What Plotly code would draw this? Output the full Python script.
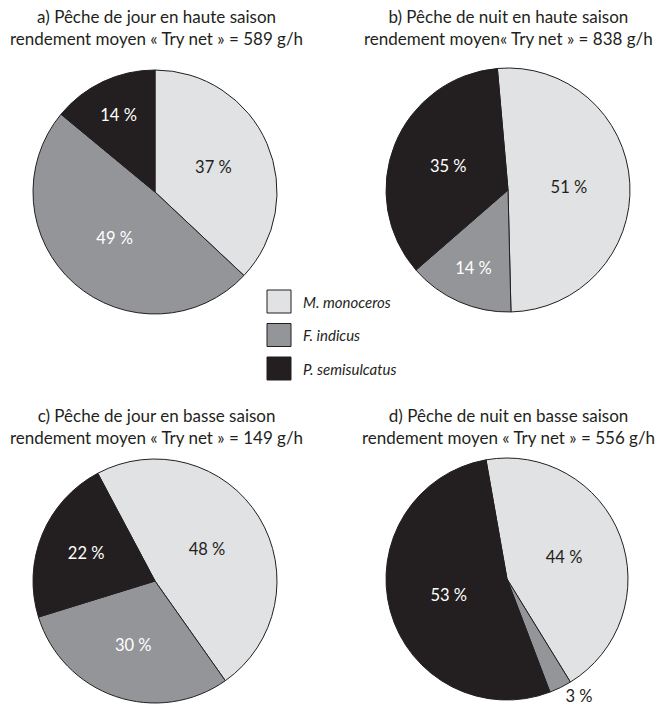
import plotly.graph_objects as go

# Species shares (%) of the "Try net" catch, per fishing situation
species = ["M. monoceros", "F. indicus", "P. semisulcatus"]
colors = ["#e1e2e4", "#939598", "#231f20"]
text_colors = ["#231f20", "#ffffff", "#ffffff"]

day_high = [37, 49, 14]
night_high = [51, 14, 35]
day_low = [48, 30, 22]
night_low = [44, 3, 53]

panel_titles = [
    "a) Pêche de jour en haute saison<br>rendement moyen « Try net » = 589 g/h",
    "b) Pêche de nuit en haute saison<br>rendement moyen« Try net » = 838 g/h",
    "c) Pêche de jour en basse saison<br>rendement moyen « Try net » = 149 g/h",
    "d) Pêche de nuit en basse saison<br>rendement moyen « Try net » = 556 g/h",
]

W, H = 665, 718
FONT = "Lato, 'Noto Sans', sans-serif"


def dom(cx, cy, r):
    """Pie domain from a centre and radius given in pixels (y from top)."""
    return dict(x=[(cx - r) / W, (cx + r) / W],
                y=[(H - cy - r) / H, (H - cy + r) / H])


panels = [
    (day_high, dom(155, 192, 122), 0, ["inside"] * 3),
    (night_high, dom(508, 190, 122), -5, ["inside"] * 3),
    (day_low, dom(155, 581, 122), -28, ["inside"] * 3),
    (night_low, dom(507, 579, 121), -10, ["inside", "outside", "inside"]),
]

fig = go.Figure()
for vals, d, rot, pos in panels:
    fig.add_trace(go.Pie(
        labels=species,
        values=vals,
        sort=False,
        direction="clockwise",
        rotation=rot,
        domain=d,
        marker=dict(colors=colors, line=dict(color="#231f20", width=1)),
        texttemplate="%{value} %",
        textposition=pos,
        insidetextorientation="horizontal",
        insidetextfont=dict(family=FONT, size=16.5, color=text_colors),
        outsidetextfont=dict(family=FONT, size=16.5, color="#231f20"),
        showlegend=False,
        hoverinfo="label+value",
    ))

# Panel titles
title_pos = [(156, 28), (508, 28), (156, 426), (508, 426)]
annotations = []
for (x, y), t in zip(title_pos, panel_titles):
    annotations.append(dict(
        text=t, x=x / W, y=1 - y / H, xref="paper", yref="paper",
        xanchor="center", yanchor="middle", showarrow=False,
        font=dict(family=FONT, size=17, color="#231f20"),
    ))

# Legend: swatches with italic species names
shapes = []
for i, (name, c) in enumerate(zip(species, colors)):
    top = 290 + i * 33.5
    shapes.append(dict(
        type="rect", xref="paper", yref="paper",
        x0=267 / W, x1=291 / W, y0=1 - (top + 23) / H, y1=1 - top / H,
        fillcolor=c, line=dict(color="#231f20", width=1),
    ))
    annotations.append(dict(
        text=f"<i>{name}</i>", x=301 / W, y=1 - (top + 11.5) / H,
        xref="paper", yref="paper", xanchor="left", yanchor="middle",
        showarrow=False, font=dict(family=FONT, size=15, color="#231f20"),
    ))

fig.update_layout(
    width=W, height=H,
    margin=dict(l=0, r=0, t=0, b=0),
    paper_bgcolor="white", plot_bgcolor="white",
    annotations=annotations, shapes=shapes,
)

fig.write_html("out.html")
